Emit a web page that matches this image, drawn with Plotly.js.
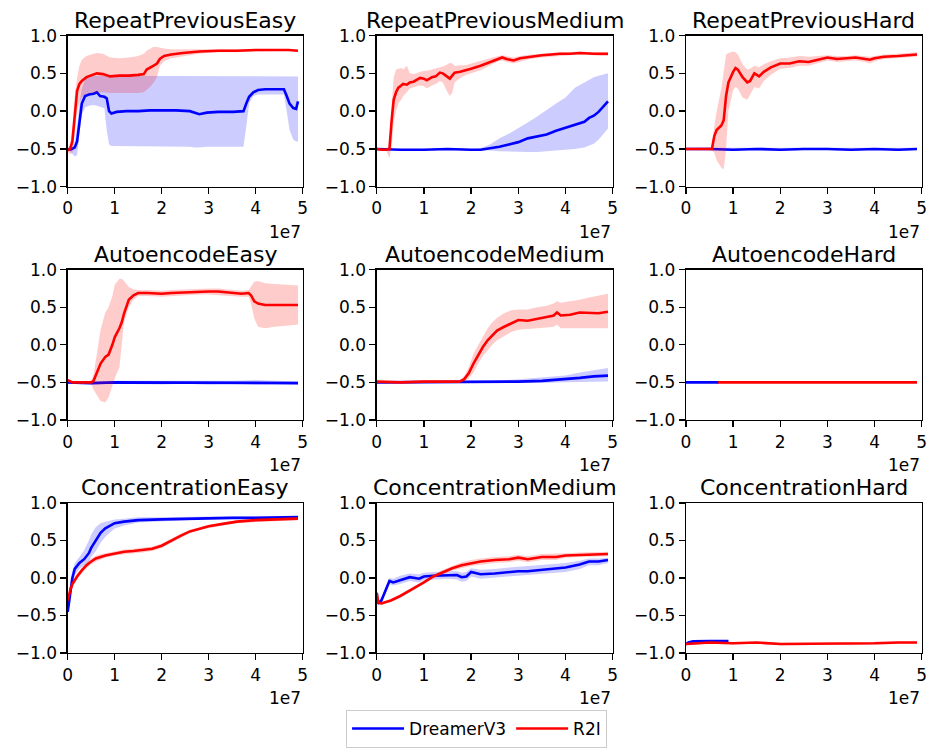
<!DOCTYPE html>
<html>
<head>
<meta charset="utf-8">
<script src="https://cdn.plot.ly/plotly-3.0.1.min.js"></script>
<style>html,body{margin:0;padding:0;background:#fff;}#chart{width:929px;height:748px;}</style>
</head>
<body>
<div id="chart"></div>
<script>
// ---------- data (x in units of 1e7 env steps) ----------
const panelTitles = ["RepeatPreviousEasy","RepeatPreviousMedium","RepeatPreviousHard",
  "AutoencodeEasy","AutoencodeMedium","AutoencodeHard",
  "ConcentrationEasy","ConcentrationMedium","ConcentrationHard"];
const seriesNames = ["DreamerV3","R2I"];
const xTickVals = [0,1,2,3,4,5];
const xTickText = ["0","1","2","3","4","5"];
const yTickVals = [-1,-0.5,0,0.5,1];
const yTickText = ["−1.0","−0.5","0.0","0.5","1.0"];

// RepeatPreviousEasy
const rpeX_d = [0,0.05,0.1,0.15,0.2,0.25,0.3,0.37,0.45,0.55,0.62,0.69,0.78,0.83,0.88,0.93,1.04,1.25,1.5,1.75,2.0,2.3,2.6,2.7,2.8,2.96,3.2,3.52,3.74,3.8,3.86,3.95,4.05,4.2,4.4,4.6,4.66,4.72,4.8,4.86,4.9];
const rpeM_d = [-0.5,-0.51,-0.5,-0.48,-0.4,-0.15,0.1,0.2,0.22,0.23,0.25,0.2,0.19,0.17,0.0,-0.03,-0.01,0.0,0.0,0.01,0.01,0.01,0.0,-0.02,-0.04,-0.02,-0.01,-0.01,0.0,0.1,0.19,0.25,0.28,0.29,0.29,0.29,0.2,0.1,0.04,0.03,0.13];
const rpeH_d = [-0.5,-0.49,-0.47,-0.4,-0.2,0.1,0.3,0.42,0.47,0.47,0.47,0.47,0.47,0.47,0.47,0.47,0.47,0.47,0.47,0.47,0.47,0.47,0.47,0.47,0.46,0.46,0.47,0.47,0.47,0.47,0.47,0.47,0.47,0.47,0.47,0.47,0.47,0.47,0.46,0.46,0.46];
const rpeL_d = [-0.5,-0.53,-0.56,-0.6,-0.58,-0.3,-0.05,0.05,0.07,0.08,0.07,0.06,0.04,-0.25,-0.44,-0.46,-0.46,-0.46,-0.46,-0.46,-0.46,-0.47,-0.47,-0.48,-0.48,-0.47,-0.47,-0.47,-0.47,-0.2,0.1,0.2,0.22,0.22,0.22,0.22,0.0,-0.25,-0.38,-0.4,-0.4];
const rpeX_r = [0,0.05,0.1,0.15,0.2,0.25,0.3,0.4,0.5,0.62,0.75,0.9,1.1,1.3,1.5,1.62,1.68,1.75,1.82,1.9,1.96,2.05,2.2,2.45,2.8,3.2,3.6,4.0,4.4,4.7,4.9];
const rpeM_r = [-0.52,-0.5,-0.4,-0.05,0.27,0.36,0.4,0.45,0.47,0.5,0.49,0.46,0.47,0.47,0.48,0.49,0.55,0.58,0.6,0.63,0.69,0.73,0.75,0.77,0.79,0.8,0.8,0.81,0.81,0.81,0.8];
const rpeH_r = [-0.5,-0.45,-0.2,0.2,0.45,0.6,0.68,0.73,0.75,0.77,0.76,0.71,0.7,0.71,0.73,0.76,0.8,0.83,0.85,0.85,0.84,0.83,0.82,0.82,0.82,0.82,0.82,0.82,0.82,0.82,0.81];
const rpeL_r = [-0.54,-0.57,-0.55,-0.3,0.0,0.12,0.18,0.23,0.24,0.25,0.25,0.24,0.24,0.24,0.24,0.25,0.28,0.32,0.37,0.45,0.6,0.66,0.7,0.73,0.76,0.78,0.78,0.79,0.8,0.8,0.79];

// RepeatPreviousMedium
const rpmX_d = [0,0.5,1.0,1.5,2.0,2.2,2.4,2.6,2.8,3.0,3.2,3.4,3.6,3.8,4.0,4.2,4.4,4.5,4.6,4.7,4.8,4.9];
const rpmM_d = [-0.5,-0.51,-0.51,-0.5,-0.51,-0.51,-0.49,-0.47,-0.44,-0.41,-0.36,-0.33,-0.31,-0.26,-0.22,-0.18,-0.14,-0.09,-0.06,-0.01,0.06,0.13];
const rpmH_d = [-0.49,-0.5,-0.5,-0.49,-0.5,-0.49,-0.44,-0.36,-0.3,-0.23,-0.15,-0.07,0.02,0.1,0.18,0.31,0.38,0.42,0.45,0.47,0.49,0.5];
const rpmL_d = [-0.51,-0.52,-0.52,-0.51,-0.52,-0.52,-0.52,-0.53,-0.53,-0.54,-0.54,-0.54,-0.53,-0.52,-0.51,-0.5,-0.48,-0.46,-0.43,-0.38,-0.3,-0.23];
const rpmX_r = [0,0.1,0.2,0.27,0.32,0.36,0.41,0.46,0.52,0.56,0.64,0.7,0.78,0.85,0.92,1.0,1.06,1.12,1.17,1.25,1.34,1.4,1.45,1.5,1.55,1.6,1.65,1.77,1.9,2.0,2.2,2.4,2.58,2.66,2.75,2.9,3.04,3.25,3.5,3.7,3.88,4.1,4.3,4.6,4.75,4.9];
const rpmM_r = [-0.5,-0.51,-0.51,-0.5,-0.1,0.15,0.25,0.31,0.34,0.36,0.35,0.38,0.39,0.41,0.44,0.43,0.41,0.43,0.45,0.46,0.51,0.5,0.48,0.46,0.43,0.47,0.51,0.52,0.54,0.56,0.6,0.65,0.7,0.71,0.69,0.67,0.7,0.72,0.74,0.75,0.76,0.76,0.77,0.76,0.76,0.76];
const rpmH_r = [-0.49,-0.49,-0.49,-0.48,0.1,0.45,0.55,0.56,0.57,0.55,0.6,0.5,0.49,0.5,0.52,0.53,0.53,0.54,0.55,0.56,0.58,0.59,0.6,0.62,0.64,0.63,0.6,0.6,0.61,0.63,0.66,0.7,0.73,0.74,0.73,0.71,0.73,0.75,0.76,0.77,0.78,0.78,0.79,0.78,0.78,0.78];
const rpmL_r = [-0.51,-0.52,-0.52,-0.62,-0.45,-0.15,0.0,0.1,0.15,0.2,0.25,0.3,0.32,0.33,0.34,0.33,0.3,0.32,0.34,0.36,0.4,0.38,0.32,0.25,0.2,0.24,0.38,0.44,0.48,0.5,0.54,0.6,0.66,0.67,0.65,0.63,0.66,0.69,0.71,0.72,0.73,0.74,0.75,0.74,0.73,0.73];

// RepeatPreviousHard
const rphX_d = [0,0.5,1.0,1.5,2.0,2.5,3.0,3.5,4.0,4.5,4.9];
const rphM_d = [-0.5,-0.5,-0.51,-0.5,-0.51,-0.5,-0.5,-0.51,-0.5,-0.51,-0.5];
const rphH_d = [-0.485,-0.485,-0.495,-0.485,-0.495,-0.485,-0.485,-0.495,-0.485,-0.495,-0.485];
const rphL_d = [-0.515,-0.515,-0.525,-0.515,-0.525,-0.515,-0.515,-0.525,-0.515,-0.525,-0.515];
const rphX_r = [0,0.2,0.4,0.55,0.6,0.65,0.75,0.8,0.85,0.9,1.0,1.05,1.1,1.2,1.3,1.36,1.45,1.55,1.65,1.8,2.0,2.2,2.4,2.6,2.8,3.0,3.2,3.4,3.6,3.8,3.9,4.0,4.2,4.5,4.7,4.9];
const rphM_r = [-0.5,-0.5,-0.5,-0.5,-0.33,-0.25,-0.19,-0.12,0.2,0.38,0.52,0.57,0.55,0.45,0.38,0.4,0.5,0.46,0.52,0.58,0.63,0.63,0.66,0.65,0.68,0.71,0.69,0.7,0.71,0.69,0.68,0.7,0.72,0.73,0.74,0.75];
const rphH_r = [-0.49,-0.49,-0.49,-0.48,-0.2,0.0,0.3,0.55,0.75,0.77,0.79,0.78,0.75,0.62,0.55,0.56,0.6,0.58,0.62,0.66,0.7,0.71,0.73,0.72,0.73,0.74,0.73,0.73,0.74,0.73,0.72,0.73,0.75,0.76,0.77,0.78];
const rphL_r = [-0.51,-0.51,-0.51,-0.52,-0.55,-0.65,-0.75,-0.77,-0.5,0.0,0.28,0.32,0.3,0.18,0.15,0.22,0.32,0.3,0.4,0.48,0.56,0.57,0.6,0.6,0.63,0.67,0.65,0.66,0.67,0.65,0.63,0.66,0.69,0.7,0.71,0.72];

// AutoencodeEasy
const aeeX_d = [0,0.5,1.0,1.5,2.0,2.5,3.0,3.5,4.0,4.5,4.9];
const aeeM_d = [-0.5,-0.51,-0.5,-0.5,-0.51,-0.5,-0.51,-0.5,-0.5,-0.5,-0.51];
const aeeH_d = [-0.48,-0.49,-0.48,-0.48,-0.49,-0.48,-0.49,-0.48,-0.47,-0.48,-0.49];
const aeeL_d = [-0.52,-0.53,-0.52,-0.52,-0.53,-0.52,-0.53,-0.52,-0.53,-0.52,-0.53];
const aeeX_r = [0,0.1,0.3,0.5,0.55,0.6,0.7,0.8,0.87,0.95,1.0,1.1,1.15,1.2,1.3,1.4,1.5,1.7,2.0,2.2,2.5,2.8,3.0,3.2,3.5,3.7,3.85,3.9,3.97,4.05,4.2,4.4,4.6,4.8,4.9];
const aeeM_r = [-0.47,-0.5,-0.5,-0.5,-0.48,-0.4,-0.25,-0.16,-0.13,0.0,0.1,0.22,0.3,0.42,0.6,0.66,0.69,0.69,0.68,0.69,0.7,0.71,0.71,0.71,0.69,0.68,0.69,0.66,0.58,0.55,0.53,0.53,0.52,0.52,0.53];
const aeeH_r = [-0.46,-0.49,-0.49,-0.48,-0.4,-0.2,0.2,0.43,0.5,0.65,0.8,0.88,0.88,0.85,0.77,0.74,0.73,0.73,0.72,0.73,0.74,0.75,0.75,0.75,0.73,0.72,0.73,0.78,0.84,0.85,0.82,0.81,0.8,0.79,0.79];
const aeeL_r = [-0.49,-0.51,-0.51,-0.52,-0.6,-0.65,-0.75,-0.77,-0.7,-0.55,-0.45,-0.3,0.0,0.3,0.5,0.6,0.65,0.65,0.64,0.65,0.66,0.67,0.67,0.67,0.65,0.64,0.64,0.55,0.35,0.24,0.22,0.24,0.25,0.26,0.27];

// AutoencodeMedium
const aemX_d = [0,0.5,1.0,1.5,2.0,2.5,3.0,3.5,4.0,4.3,4.6,4.9];
const aemM_d = [-0.5,-0.5,-0.5,-0.5,-0.5,-0.5,-0.49,-0.48,-0.46,-0.44,-0.42,-0.41];
const aemH_d = [-0.49,-0.49,-0.49,-0.49,-0.49,-0.48,-0.46,-0.44,-0.41,-0.37,-0.34,-0.31];
const aemL_d = [-0.51,-0.51,-0.51,-0.51,-0.51,-0.51,-0.51,-0.51,-0.5,-0.5,-0.49,-0.49];
const aemX_r = [0,0.5,1.0,1.5,1.75,1.85,1.95,2.05,2.15,2.25,2.35,2.45,2.55,2.7,2.85,3.0,3.2,3.4,3.6,3.75,3.82,3.9,4.1,4.3,4.5,4.7,4.9];
const aemM_r = [-0.49,-0.5,-0.49,-0.49,-0.49,-0.46,-0.38,-0.25,-0.13,-0.03,0.06,0.13,0.19,0.24,0.29,0.33,0.32,0.35,0.37,0.39,0.43,0.39,0.4,0.43,0.43,0.42,0.44];
const aemH_r = [-0.48,-0.49,-0.48,-0.48,-0.48,-0.42,-0.3,-0.12,0.0,0.12,0.22,0.3,0.36,0.42,0.46,0.47,0.47,0.5,0.52,0.55,0.58,0.56,0.58,0.6,0.63,0.66,0.68];
const aemL_r = [-0.5,-0.51,-0.5,-0.5,-0.5,-0.49,-0.45,-0.37,-0.25,-0.15,-0.08,0.0,0.06,0.12,0.17,0.2,0.21,0.22,0.23,0.24,0.27,0.22,0.22,0.21,0.21,0.22,0.22];

// AutoencodeHard
const aehX_d = [0,0.2,0.4,0.6,0.7];
const aehM_d = [-0.5,-0.5,-0.51,-0.5,-0.5];
const aehH_d = [-0.49,-0.49,-0.5,-0.49,-0.49];
const aehL_d = [-0.51,-0.51,-0.52,-0.51,-0.51];
const aehX_r = [0.68,1.0,1.5,2.0,2.5,3.0,3.5,4.0,4.5,4.9];
const aehM_r = [-0.5,-0.5,-0.5,-0.51,-0.5,-0.5,-0.51,-0.5,-0.5,-0.5];
const aehH_r = [-0.49,-0.49,-0.49,-0.5,-0.49,-0.49,-0.5,-0.49,-0.49,-0.49];
const aehL_r = [-0.51,-0.51,-0.51,-0.52,-0.51,-0.51,-0.52,-0.51,-0.51,-0.51];

// ConcentrationEasy
const ceX_d = [0,0.03,0.06,0.1,0.15,0.25,0.35,0.45,0.5,0.6,0.7,0.8,1.0,1.2,1.5,2.0,2.5,3.0,3.5,4.0,4.5,4.9];
const ceM_d = [-0.45,-0.3,-0.12,0.0,0.12,0.2,0.25,0.33,0.4,0.5,0.6,0.66,0.73,0.75,0.77,0.78,0.79,0.8,0.8,0.8,0.81,0.81];
const ceH_d = [-0.4,-0.2,-0.02,0.1,0.2,0.28,0.37,0.5,0.58,0.68,0.73,0.75,0.78,0.79,0.81,0.81,0.82,0.82,0.82,0.82,0.82,0.82];
const ceL_d = [-0.5,-0.4,-0.22,-0.1,0.04,0.12,0.17,0.22,0.28,0.36,0.47,0.55,0.66,0.7,0.74,0.76,0.77,0.79,0.79,0.79,0.8,0.8];
const ceX_r = [0,0.03,0.06,0.1,0.2,0.3,0.4,0.5,0.6,0.8,1.0,1.2,1.4,1.6,1.8,2.0,2.2,2.4,2.6,2.8,3.0,3.3,3.6,4.0,4.5,4.9];
const ceM_r = [-0.3,-0.22,-0.15,-0.08,0.02,0.1,0.17,0.22,0.26,0.3,0.33,0.35,0.36,0.37,0.39,0.43,0.5,0.56,0.62,0.66,0.69,0.72,0.75,0.77,0.78,0.79];
const ceH_r = [-0.25,-0.18,-0.11,-0.04,0.06,0.14,0.21,0.26,0.3,0.33,0.36,0.38,0.39,0.4,0.42,0.46,0.53,0.59,0.64,0.68,0.71,0.74,0.77,0.79,0.8,0.81];
const ceL_r = [-0.35,-0.26,-0.19,-0.12,-0.02,0.06,0.13,0.18,0.22,0.27,0.3,0.32,0.33,0.34,0.36,0.4,0.47,0.53,0.6,0.64,0.67,0.7,0.73,0.75,0.76,0.77];

// ConcentrationMedium
const cmX_d = [0,0.02,0.1,0.2,0.27,0.35,0.5,0.7,0.9,1.0,1.2,1.5,1.7,1.8,1.9,2.0,2.2,2.5,2.8,3.0,3.2,3.5,3.8,4.0,4.3,4.5,4.7,4.9];
const cmM_d = [-0.2,-0.34,-0.3,-0.15,-0.04,-0.06,-0.03,0.01,-0.01,0.02,0.03,0.04,0.04,0.01,0.02,0.08,0.05,0.06,0.08,0.09,0.09,0.11,0.13,0.14,0.18,0.22,0.22,0.24];
const cmH_d = [-0.15,-0.3,-0.26,-0.1,0.0,-0.01,0.03,0.06,0.05,0.07,0.08,0.09,0.09,0.07,0.08,0.13,0.11,0.12,0.14,0.15,0.15,0.17,0.19,0.2,0.23,0.26,0.26,0.27];
const cmL_d = [-0.25,-0.37,-0.34,-0.2,-0.08,-0.1,-0.08,-0.04,-0.06,-0.03,-0.02,-0.01,-0.02,-0.05,-0.04,0.02,-0.01,0.0,0.02,0.03,0.03,0.05,0.07,0.08,0.12,0.17,0.17,0.2];
const cmX_r = [0,0.03,0.1,0.2,0.3,0.5,0.7,1.0,1.2,1.4,1.6,1.8,2.0,2.2,2.5,2.8,3.0,3.2,3.5,3.8,4.0,4.3,4.6,4.9];
const cmM_r = [-0.2,-0.33,-0.34,-0.32,-0.3,-0.24,-0.17,-0.06,0.02,0.08,0.13,0.17,0.2,0.22,0.24,0.25,0.27,0.25,0.28,0.28,0.3,0.31,0.32,0.32];
const cmH_r = [-0.17,-0.31,-0.32,-0.3,-0.28,-0.22,-0.15,-0.04,0.04,0.11,0.16,0.21,0.24,0.26,0.28,0.29,0.31,0.29,0.32,0.32,0.33,0.34,0.35,0.35];
const cmL_r = [-0.23,-0.35,-0.36,-0.34,-0.32,-0.26,-0.19,-0.08,0.0,0.05,0.1,0.13,0.16,0.18,0.2,0.21,0.23,0.21,0.24,0.24,0.27,0.28,0.29,0.29];

// ConcentrationHard
const chX_d = [0,0.05,0.15,0.3,0.5,0.7,0.9];
const chM_d = [-0.88,-0.86,-0.845,-0.84,-0.84,-0.84,-0.84];
const chH_d = [-0.87,-0.85,-0.835,-0.83,-0.83,-0.83,-0.83];
const chL_d = [-0.89,-0.87,-0.855,-0.85,-0.85,-0.85,-0.85];
const chX_r = [0,0.2,0.5,1.0,1.5,2.0,2.5,3.0,3.5,4.0,4.5,4.9];
const chM_r = [-0.88,-0.87,-0.86,-0.87,-0.86,-0.88,-0.88,-0.87,-0.88,-0.87,-0.86,-0.86];
const chH_r = [-0.865,-0.855,-0.845,-0.855,-0.845,-0.865,-0.865,-0.855,-0.865,-0.855,-0.845,-0.845];
const chL_r = [-0.895,-0.885,-0.875,-0.885,-0.875,-0.895,-0.895,-0.885,-0.895,-0.885,-0.875,-0.875];

// ---------- assembly ----------
const panels = [
  [[rpeX_d,rpeM_d,rpeH_d,rpeL_d],[rpeX_r,rpeM_r,rpeH_r,rpeL_r]],
  [[rpmX_d,rpmM_d,rpmH_d,rpmL_d],[rpmX_r,rpmM_r,rpmH_r,rpmL_r]],
  [[rphX_d,rphM_d,rphH_d,rphL_d],[rphX_r,rphM_r,rphH_r,rphL_r]],
  [[aeeX_d,aeeM_d,aeeH_d,aeeL_d],[aeeX_r,aeeM_r,aeeH_r,aeeL_r]],
  [[aemX_d,aemM_d,aemH_d,aemL_d],[aemX_r,aemM_r,aemH_r,aemL_r]],
  [[aehX_d,aehM_d,aehH_d,aehL_d],[aehX_r,aehM_r,aehH_r,aehL_r]],
  [[ceX_d,ceM_d,ceH_d,ceL_d],[ceX_r,ceM_r,ceH_r,ceL_r]],
  [[cmX_d,cmM_d,cmH_d,cmL_d],[cmX_r,cmM_r,cmH_r,cmL_r]],
  [[chX_d,chM_d,chH_d,chL_d],[chX_r,chM_r,chH_r,chL_r]]
];
const lineColors = ["#0000ff","#ff0000"];
const bandColors = ["rgba(0,0,255,0.2)","rgba(255,0,0,0.2)"];
const STEP = 1e7;

const W = 929, H = 748;
const colPx = [[67.7,302.7],[376.7,612.7],[686,921.7]];
const rowPx = [[36,189],[273,425],[509,661]];
const FONT = "DejaVu Sans, Verdana, sans-serif";

const traces = [];
const layout = {
  width: W, height: H,
  margin: {l:0,r:0,t:0,b:0},
  paper_bgcolor: "#fff", plot_bgcolor: "#fff",
  font: {family: FONT, size: 17, color: "#000"},
  showlegend: true,
  legend: {orientation: "h", x: 0.513, xanchor: "center", y: 1-719/748, yanchor: "top",
    bordercolor: "#cccccc", borderwidth: 1, bgcolor: "#fff",
    font: {family: FONT, size: 17, color: "#000"}, itemwidth: 52},
  annotations: []
};

panels.forEach((p, i) => {
  const r = Math.floor(i/3), c = i%3;
  const ax = i===0 ? "" : String(i+1);
  const xd = [colPx[c][0]/W, colPx[c][1]/W];
  const yd = [1-rowPx[r][1]/H, 1-rowPx[r][0]/H];
  layout["xaxis"+ax] = {domain: xd, anchor: "y"+ax, range: [0, 5*STEP],
    tickvals: xTickVals.map(v=>v*STEP), ticktext: xTickText,
    showline: true, mirror: true, linecolor: "#000", linewidth: 1.3,
    ticks: "outside", ticklen: 6, tickwidth: 1.3, tickcolor: "#000",
    showgrid: false, zeroline: false, tickfont: {size: 17, family: FONT, color:"#000"}, fixedrange: true};
  layout["yaxis"+ax] = {domain: yd, anchor: "x"+ax, range: [-1, 1],
    tickvals: yTickVals, ticktext: yTickText,
    showline: true, mirror: true, linecolor: "#000", linewidth: 1.3,
    ticks: "outside", ticklen: 6, tickwidth: 1.3, tickcolor: "#000",
    showgrid: false, zeroline: false, tickfont: {size: 17, family: FONT, color:"#000"}, fixedrange: true};
  p.forEach((s, k) => {
    const xs = s[0].map(v=>v*STEP);
    traces.push({x: xs.concat(xs.slice().reverse()), y: s[2].concat(s[3].slice().reverse()),
      xaxis: "x"+ax, yaxis: "y"+ax, type: "scatter", mode: "lines", fill: "toself",
      fillcolor: bandColors[k], line: {width: 0, color: bandColors[k]}, hoverinfo: "skip", showlegend: false});
    traces.push({x: xs, y: s[1], xaxis: "x"+ax, yaxis: "y"+ax, type: "scatter", mode: "lines",
      name: seriesNames[k], line: {color: lineColors[k], width: 2.6}, showlegend: i===0, legendrank: k+1});
  });
  layout.annotations.push({text: panelTitles[i], xref: "paper", yref: "paper",
    x: (xd[0]+xd[1])/2, y: yd[1], xanchor: "center", yanchor: "middle", yshift: 15,
    showarrow: false, font: {size: 22, family: FONT, color: "#000"}});
  layout.annotations.push({text: "1e7", xref: "paper", yref: "paper",
    x: xd[1], y: yd[0], xanchor: "right", yanchor: "middle", yshift: -45,
    showarrow: false, font: {size: 17, family: FONT, color: "#000"}});
});

Plotly.newPlot("chart", traces, layout, {displayModeBar: false, staticPlot: true});
</script>
</body>
</html>
